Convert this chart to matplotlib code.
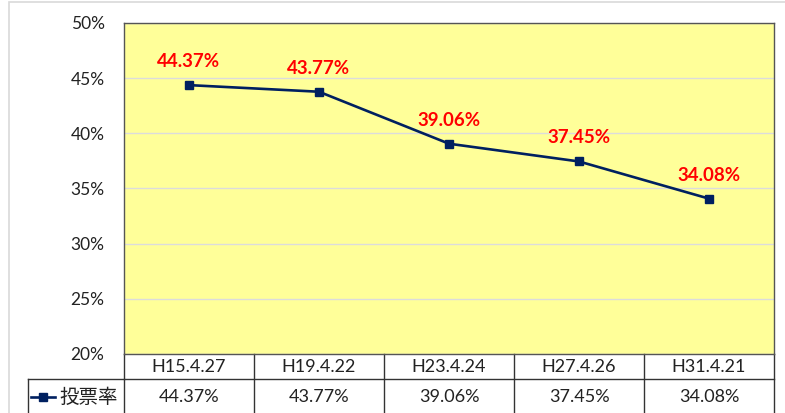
import matplotlib

matplotlib.use("Agg")
import matplotlib.pyplot as plt
from matplotlib.lines import Line2D
from matplotlib.patches import Rectangle

plt.rcParams["font.family"] = ["Lato", "Noto Sans CJK JP", "DejaVu Sans"]

dates = ["H15.4.27", "H19.4.22", "H23.4.24", "H27.4.26", "H31.4.21"]
turnout = [44.37, 43.77, 39.06, 37.45, 34.08]
series_name = "投票率"
yticks = [20, 25, 30, 35, 40, 45, 50]

NAVY = "#002060"
W, H = 785, 413

fig = plt.figure(figsize=(W / 100, H / 100), dpi=100)

# outer chart frame (light grey)
fig.patches.append(Rectangle((8.5 / W, -0.1), 2.0, 1.0 - 2.5 / H + 0.1,
                             transform=fig.transFigure, fill=False,
                             edgecolor="#d9d9d9", linewidth=1.2))

left, right, top, bottom = 124, 774, 23, 354
ax = fig.add_axes([left / W, 1 - bottom / H, (right - left) / W, (bottom - top) / H])
ax.set_facecolor("#FFFF99")

x = list(range(len(dates)))
ax.plot(x, turnout, color=NAVY, linewidth=1.9, marker="s", markersize=6,
        markerfacecolor=NAVY, markeredgecolor=NAVY, zorder=3)
for xi, v in zip(x, turnout):
    ax.annotate(f"{v:.2f}%", (xi, v), xytext=(0, 17), textcoords="offset points",
                ha="center", va="center", color="#FF0000", fontsize=13.5,
                fontweight="bold")

ax.set_xlim(-0.5, len(dates) - 0.5)
ax.set_ylim(20, 50)
ax.set_yticks(yticks)
ax.set_yticklabels([f"{t}%" for t in yticks], fontsize=12.5, color="#222222")
ax.set_xticks([])
ax.tick_params(axis="y", length=0, pad=14)
ax.grid(axis="y", color="#dcdcdc", linewidth=1)
ax.set_axisbelow(True)
for s in ax.spines.values():
    s.set_color("#555555")
    s.set_linewidth(1)

# data table below the plot
ph = bottom - top
r1 = -(379 - bottom) / ph
r2 = -(414 - bottom) / ph
tab = ax.get_xaxis_transform()
lc = "#333333"
lw = 1.0
ax.add_line(Line2D([-0.5, len(dates) - 0.5], [r1, r1], transform=tab, color=lc, lw=lw, clip_on=False))
ax.add_line(Line2D([-0.5, len(dates) - 0.5], [r2, r2], transform=tab, color=lc, lw=lw, clip_on=False))
for i in range(len(dates) + 1):
    ax.add_line(Line2D([i - 0.5, i - 0.5], [0, r2], transform=tab, color=lc, lw=lw, clip_on=False))
for i, (d, v) in enumerate(zip(dates, turnout)):
    ax.text(i, r1 / 2, d, transform=tab, ha="center", va="center", fontsize=13, color="#222222")
    ax.text(i, (r1 + r2) / 2, f"{v:.2f}%", transform=tab, ha="center", va="center",
            fontsize=13, color="#222222")

# row header cell with legend key
cell_w = (right - left) / len(dates)
lab_left = -0.5 - (left - 28) / cell_w
ax.add_line(Line2D([lab_left, -0.5], [r1, r1], transform=tab, color=lc, lw=lw, clip_on=False))
ax.add_line(Line2D([lab_left, lab_left], [r1, r2], transform=tab, color=lc, lw=lw, clip_on=False))
kx0 = lab_left + 3 / cell_w
kx1 = lab_left + 27 / cell_w
ym = (r1 + r2) / 2
ax.add_line(Line2D([kx0, kx1], [ym, ym], transform=tab, color=NAVY, lw=1.9, clip_on=False))
ax.add_line(Line2D([(kx0 + kx1) / 2], [ym], transform=tab, color=NAVY, marker="s",
                   markersize=6, linestyle="none", clip_on=False))
ax.text(lab_left + 31 / cell_w, ym, series_name, transform=tab, ha="left", va="center",
        fontsize=14, color="#222222")

fig.savefig("out.png", dpi=100)
